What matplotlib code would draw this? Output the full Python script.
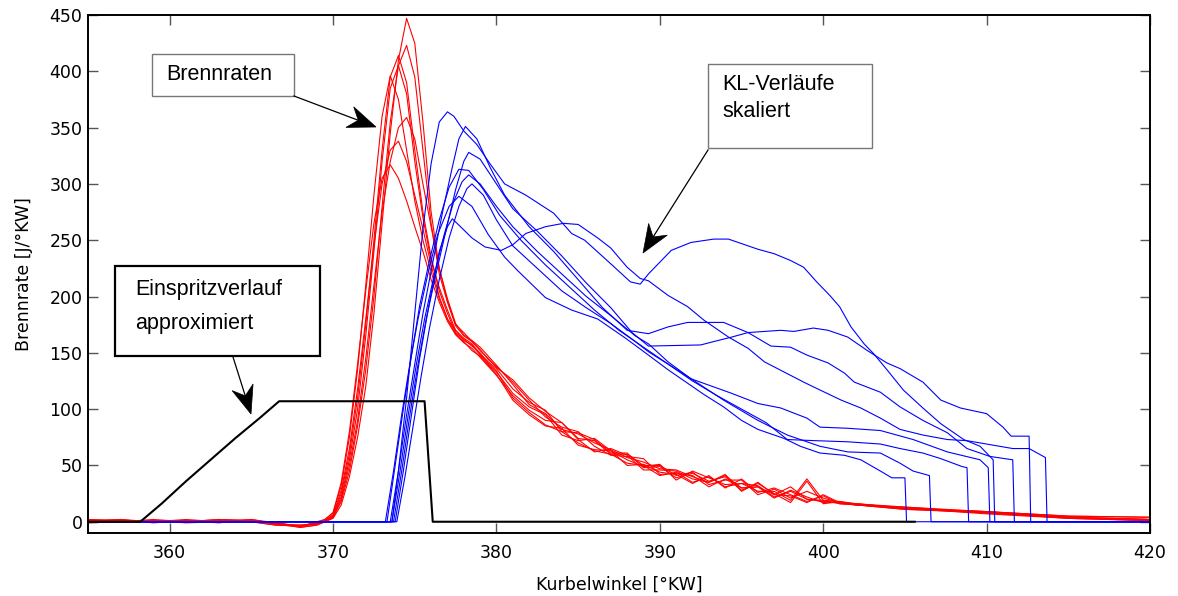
import matplotlib
matplotlib.use("Agg")
import matplotlib.pyplot as plt
from matplotlib.patches import Rectangle, Polygon
import numpy as np

# ---- data ----
# Brennraten (red), shared crank angle grid
rx = [355, 357, 359, 361, 363, 365, 366.5, 368, 369,
      369.5, 370, 370.5, 371, 371.5, 372, 372.5, 373, 373.5, 374, 374.5, 375,
      375.5, 376, 376.5, 377, 377.5, 378, 378.5, 379, 379.5, 380,
      381, 382, 383, 384, 385, 386, 387, 388, 389, 390, 391, 392, 393, 394,
      395, 396, 397, 398, 399, 400, 401, 402,
      405, 410, 415, 420]

r1 = [1, 0, 2, 0, 1, 1, -2, -4, -2,
      0, 3, 15, 40, 75, 120, 185, 265, 345, 410, 447, 425, 355, 275, 225, 198, 176, 166, 161, 155, 147, 139,
      122, 104, 96, 82, 78, 70, 64, 57, 53, 47, 46, 40, 35, 41, 30, 31, 24, 31, 20, 18, 17, 16,
      12, 8, 4, 1]
r2 = [0, 2, 0, 1, -1, 2, -1, -5, -3,
      0, 4, 18, 45, 85, 135, 200, 280, 355, 405, 423, 395, 330, 265, 220, 195, 174, 165, 160, 152, 145, 137,
      126, 110, 98, 88, 74, 72, 60, 60, 50, 50, 41, 44, 33, 37, 37, 24, 29, 21, 27, 21, 17, 15,
      13, 9, 5, 4]
r3 = [2, 1, 0, 2, 0, 0, -3, -4, -1,
      1, 6, 25, 60, 110, 175, 250, 330, 395, 414, 390, 330, 275, 235, 205, 185, 168, 162, 156, 150, 141, 134,
      110, 97, 86, 80, 70, 63, 60, 52, 50, 41, 44, 35, 40, 31, 34, 32, 22, 27, 20, 19, 18, 16,
      12, 8, 4, 2]
r4 = [-1, 0, 1, 0, 2, 1, -2, -3, -2,
      0, 5, 22, 55, 100, 165, 240, 320, 385, 405, 380, 320, 270, 232, 208, 188, 170, 163, 158, 149, 142, 136,
      118, 106, 99, 80, 79, 73, 61, 61, 48, 49, 39, 43, 36, 40, 28, 34, 25, 17, 36, 16, 18, 15,
      11, 8, 3, 1]
r5 = [1, 2, -1, 1, 1, 0, -1, -4, -1,
      2, 8, 32, 75, 135, 210, 290, 360, 396, 375, 330, 285, 250, 222, 198, 180, 167, 160, 152, 147, 139, 131,
      108, 95, 85, 83, 68, 64, 63, 50, 51, 44, 42, 34, 41, 30, 38, 26, 30, 24, 18, 23, 16, 15,
      12, 9, 5, 4]
r6 = [0, 1, 1, -1, 0, 2, -2, -5, -3,
      0, 4, 20, 50, 90, 145, 210, 275, 320, 350, 359, 340, 300, 262, 225, 196, 175, 168, 160, 153, 144, 138,
      124, 108, 93, 84, 80, 67, 59, 58, 56, 42, 43, 41, 31, 38, 30, 31, 21, 28, 22, 17, 17, 16,
      13, 8, 4, 2]
r7 = [2, 0, 1, 1, 1, 0, -3, -3, -2,
      1, 6, 28, 65, 118, 180, 245, 300, 330, 338, 320, 290, 260, 228, 200, 180, 170, 161, 157, 148, 140, 133,
      114, 102, 95, 77, 72, 74, 63, 55, 49, 51, 37, 45, 39, 33, 34, 27, 27, 19, 38, 19, 16, 15,
      12, 7, 3, 1]
r8 = [1, 1, 0, 0, 2, 1, -1, -4, 0,
      2, 8, 35, 80, 140, 205, 265, 305, 317, 305, 285, 262, 240, 215, 195, 178, 166, 159, 154, 146, 138, 130,
      112, 99, 90, 88, 73, 62, 65, 59, 46, 46, 45, 38, 35, 42, 27, 35, 24, 23, 17, 24, 17, 15,
      11, 9, 4, 2]
brenn = [r1, r2, r3, r4, r5, r6, r7, r8]

# KL-Verlaeufe skaliert (blue)
kl1_x = [355, 373.6, 374.0, 374.5, 375.0, 375.5, 376.0, 376.5, 377.0, 377.4, 378.0, 378.8, 379.6, 380.5,
         381.8, 383.5, 384.6, 385.4, 387.0, 388.2, 388.8, 389.3, 390.1, 390.7, 391.9, 393.3, 394.2, 395.0,
         396.0, 397.0, 398.0, 398.8, 399.6, 400.4, 401.0, 401.7, 402.5, 403.1, 403.9, 404.9, 406.1, 407.2,
         408.6, 409.6, 410.4, 410.5, 420]
kl1_y = [0, 0, 45, 110, 185, 260, 318, 355, 364, 360, 347, 335, 318, 300,
         290, 274, 256, 250, 229, 213, 211, 220, 232, 241, 248, 251, 251, 247,
         242, 238, 232, 226, 213, 201, 191, 173, 158, 149, 135, 117, 101, 87,
         73, 67, 55, 0, 0]
kl2_x = [355, 373.8, 374.3, 374.8, 375.3, 375.9, 376.5, 377.0, 377.3, 377.8, 378.5, 379.3, 380.3, 381.0,
         381.8, 383.0, 384.1, 385.0, 386.2, 387.0, 388.0, 388.8, 389.3, 390.5, 391.7, 392.7, 394.2, 395.4,
         396.4, 397.6, 398.8, 399.8, 401.1, 402.3, 403.5, 404.7, 406.1, 407.6, 408.8, 410.4, 411.6, 412.6,
         413.6, 413.7, 420]
kl2_y = [0, 0, 45, 95, 145, 195, 240, 262, 269, 262, 252, 244, 241, 246,
         256, 262, 265, 264, 252, 243, 226, 216, 214, 201, 191, 179, 164, 154,
         142, 133, 124, 117, 108, 101, 92, 82, 77, 73, 72, 68, 65, 65,
         57, 0, 0]
kl3_x = [355, 373.5, 374.0, 374.5, 375.0, 375.5, 376.1, 376.7, 377.3, 377.7, 378.1, 378.8, 379.6, 380.5,
         382.0, 383.5, 385.0, 386.5, 388.0, 389.3, 390.5, 391.7, 393.9, 395.4, 396.8, 398.0, 399.0, 400.3,
         401.3, 401.9, 403.5, 404.7, 406.1, 407.6, 408.8, 410.2, 411.6, 411.7, 420]
kl3_y = [0, 0, 45, 95, 140, 185, 230, 275, 315, 340, 351, 340, 315, 290,
         262, 240, 215, 190, 170, 167, 173, 177, 177, 168, 156, 155, 148, 141,
         132, 124, 115, 102, 90, 79, 65, 58, 55, 0, 0]
kl4_x = [355, 373.7, 374.2, 374.7, 375.2, 375.7, 376.3, 376.9, 377.5, 378.0, 378.3, 379.0, 380.0, 381.0,
         382.5, 384.0, 385.5, 387.0, 388.3, 389.3, 392.5, 393.3, 394.4, 395.4, 397.4, 398.2, 399.4, 400.3,
         401.5, 402.7, 403.9, 404.7, 406.1, 407.2, 408.4, 410.0, 411.0, 411.5, 412.6, 412.7, 420]
kl4_y = [0, 0, 45, 95, 140, 180, 220, 258, 295, 320, 328, 322, 300, 278,
         258, 236, 212, 190, 168, 156, 157, 160, 164, 168, 170, 169, 172, 170,
         164, 152, 141, 136, 124, 108, 101, 96, 84, 76, 76, 0, 0]
kl5_x = [355, 373.2, 373.7, 374.2, 374.7, 375.2, 375.8, 376.4, 377.1, 377.7, 378.5, 379.5, 380.5, 381.3,
         383.0, 384.6, 386.2, 387.9, 389.3, 390.5, 391.7, 392.7, 393.9, 395.0, 396.0, 397.0, 397.6, 398.6,
         399.8, 401.3, 402.3, 403.5, 404.2, 405.0, 405.1, 420]
kl5_y = [0, 0, 45, 95, 140, 180, 220, 255, 280, 289, 280, 255, 235, 223,
         199, 188, 180, 163, 148, 135, 123, 113, 102, 90, 82, 77, 74, 67,
         61, 59, 55, 45, 39, 39, 0, 0]
kl6_x = [355, 373.9, 374.4, 374.9, 375.4, 375.9, 376.5, 377.1, 377.7, 378.2, 378.5, 379.2, 380.0, 381.0,
         382.5, 384.0, 385.5, 387.0, 388.5, 389.3, 391.7, 393.9, 396.0, 397.8, 399.8, 401.5, 403.5, 404.7,
         405.5, 406.5, 406.6, 420]
kl6_y = [0, 0, 40, 85, 130, 172, 215, 252, 280, 296, 300, 290, 268, 245,
         225, 205, 190, 176, 160, 151, 129, 108, 90, 77, 67, 62, 61, 52,
         45, 41, 0, 0]
kl7_x = [355, 373.3, 373.8, 374.3, 374.8, 375.3, 375.9, 376.5, 377.1, 377.7, 378.3, 379.2, 380.2, 381.5,
         383.0, 384.5, 386.0, 387.5, 389.3, 390.5, 392.0, 393.5, 395.0, 396.5, 397.8, 399.5, 401.5, 403.5,
         404.7, 406.1, 407.2, 408.5, 408.8, 408.9, 420]
kl7_y = [0, 0, 50, 100, 148, 192, 232, 268, 297, 313, 312, 295, 272, 250,
         228, 208, 188, 170, 152, 140, 125, 112, 100, 88, 73, 72, 71, 69,
         65, 61, 56, 49, 48, 0, 0]
kl8_x = [355, 373.6, 374.1, 374.6, 375.1, 375.6, 376.2, 376.8, 377.4, 377.9, 378.3, 379.0, 380.0, 381.0,
         382.5, 384.0, 385.5, 387.0, 388.5, 389.3, 390.5, 391.9, 394.4, 396.0, 397.4, 399.0, 399.8, 401.5,
         403.5, 405.5, 407.6, 409.6, 410.1, 410.2, 420]
kl8_y = [0, 0, 45, 95, 140, 180, 220, 255, 285, 302, 308, 300, 280, 262,
         240, 220, 200, 183, 165, 158, 142, 127, 114, 105, 101, 92, 84, 83,
         81, 73, 62, 55, 48, 0, 0]
kl = [(kl1_x, kl1_y), (kl2_x, kl2_y), (kl3_x, kl3_y), (kl4_x, kl4_y),
      (kl5_x, kl5_y), (kl6_x, kl6_y), (kl7_x, kl7_y), (kl8_x, kl8_y)]

# Einspritzverlauf approximiert (black)
inj_x = [355, 358.2, 359.5, 361, 362.5, 364, 365.5, 366.7, 375.6, 376.1, 405.6]
inj_y = [0, 0, 16, 36, 55, 74, 92, 107, 107, 0, 0]

xticks = [360, 370, 380, 390, 400, 410, 420]
yticks = [0, 50, 100, 150, 200, 250, 300, 350, 400, 450]

# ---- figure ----
W, H = 1178, 596
fig = plt.figure(figsize=(W / 100, H / 100), dpi=100)
ax = fig.add_axes([88 / W, (H - 533) / H, (1150 - 88) / W, (533 - 15) / H])

for r in brenn:
    ax.plot(rx, r, color='red', lw=0.8)
for x, y in kl:
    ax.plot(x, y, color='blue', lw=0.8)
ax.plot(inj_x, inj_y, color='black', lw=1.5)

ax.set_xlim(355, 420)
ax.set_ylim(-10, 450)
ax.set_xticks(xticks)
ax.set_yticks(yticks)
ax.tick_params(direction='in', length=7, width=1, color='#555555',
               top=True, right=True, labelsize=12.5, pad=8)
ax.tick_params(axis='y', pad=4)
for s in ax.spines.values():
    s.set_linewidth(1.4)
ax.set_xlabel('Kurbelwinkel [°KW]', fontsize=12.5, labelpad=10)
ax.set_ylabel('Brennrate [J/°KW]', fontsize=12.5, labelpad=12)


# ---- annotations in pixel coordinates ----
def fp(px, py):
    return px / W, 1 - py / H


def box(x0, y0, x1, y1, ec, lw):
    fx, fy = fp(x0, y1)
    fig.add_artist(Rectangle((fx, fy), (x1 - x0) / W, (y1 - y0) / H,
                             transform=fig.transFigure, fill=True,
                             facecolor='white', edgecolor=ec, lw=lw, zorder=5))


def arrow(sx, sy, tx, ty, L=28, w=11, notch=9):
    d = np.array([tx - sx, ty - sy], float)
    u = d / np.hypot(*d)
    n = np.array([-u[1], u[0]])
    t = np.array([tx, ty], float)
    bl = t - L * u + w * n
    br = t - L * u - w * n
    nt = t - (L - notch) * u
    pts = [fp(*p) for p in (t, bl, nt, br)]
    fig.add_artist(plt.Line2D([fp(sx, sy)[0], fp(*nt)[0]], [fp(sx, sy)[1], fp(*nt)[1]],
                              transform=fig.transFigure, color='black', lw=0.9, zorder=6))
    fig.add_artist(Polygon(pts, closed=True, transform=fig.transFigure,
                           facecolor='black', edgecolor='black', lw=0.5, zorder=6))


tf = dict(fontsize=15.5, family='Liberation Sans', va='center', ha='left', zorder=7)

box(152, 54, 294, 96, '#777777', 1.0)
fig.text(*fp(166, 75), 'Brennraten', **tf)
arrow(294, 96, 376, 127)

box(708, 64, 872, 148, '#777777', 1.0)
fig.text(*fp(722, 84), 'KL-Verläufe', **tf)
fig.text(*fp(722, 112), 'skaliert', **tf)
arrow(708, 150, 643, 253)

box(115, 266, 320, 356, 'black', 1.6)
fig.text(*fp(135, 290), 'Einspritzverlauf', **tf)
fig.text(*fp(135, 324), 'approximiert', **tf)
arrow(233, 357, 251, 414)

fig.savefig('out.png', dpi=100)
